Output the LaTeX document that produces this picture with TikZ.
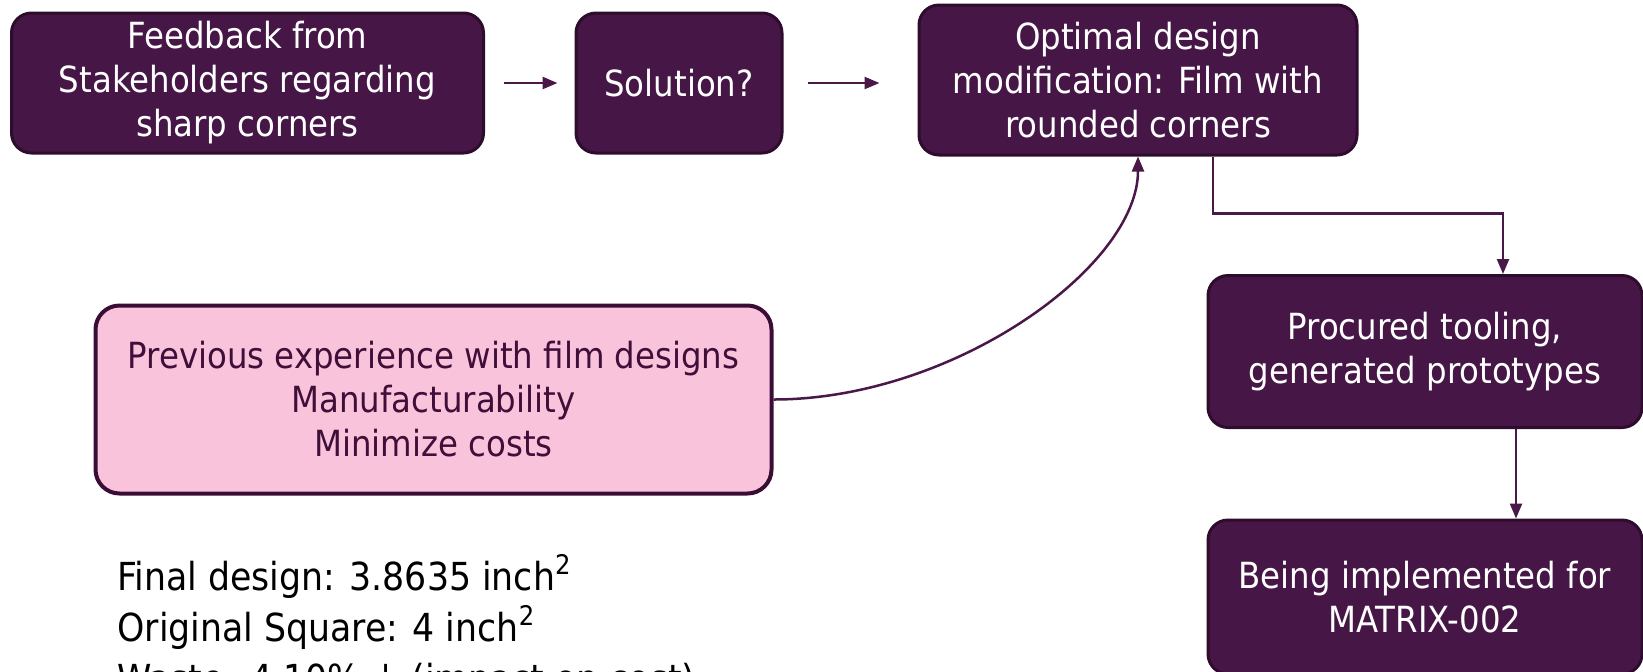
\documentclass[tikz,border=0pt]{standalone}
\usepackage{fontspec}
\setmainfont{DejaVu Sans Condensed}
\usetikzlibrary{arrows.meta,calc}
\definecolor{boxfill}{HTML}{461746}
\definecolor{boxline}{HTML}{2E0C2D}
\definecolor{pinkfill}{HTML}{F9C3DC}
\definecolor{pinkline}{HTML}{3A0D36}
\definecolor{pinktext}{HTML}{3F0E39}
\definecolor{conncol}{HTML}{4A1848}
\begin{document}
\begin{tikzpicture}[x=0.5pt,y=-0.5pt,
  darkbox/.style={draw=boxline, line width=1.5pt, fill=boxfill, rounded corners=10pt,
    text=white, align=center, inner sep=0pt, font=\fontsize{18}{22}\selectfont},
  pinkbox/.style={draw=pinkline, line width=2pt, fill=pinkfill, rounded corners=12pt,
    text=pinktext, align=center, inner sep=0pt, font=\fontsize{18}{22}\selectfont},
  conn/.style={draw=conncol, line width=1.25pt},
  connarrow/.style={conn, -{Triangle[length=7.5pt,width=6pt]}},
  note/.style={align=left, inner sep=0pt, text=black, font=\fontsize{19.3}{25.5}\selectfont}
]
\useasboundingbox (0,0) rectangle (1643,671);
\node[darkbox, minimum width=236pt, minimum height=70pt] (fb) at (247.5,83)
  {Feedback from\\Stakeholders regarding\\sharp corners};
\node[darkbox, minimum width=103pt, minimum height=70pt] (sol) at (679,83) {Solution?};
\node[darkbox, minimum width=219pt, minimum height=75pt] (opt) at (1138,80)
  {Optimal design\\modification: Film with\\rounded corners};
\node[darkbox, minimum width=217pt, minimum height=76pt] (proc) at (1425,351.5)
  {Procured tooling,\\generated prototypes};
\node[darkbox, minimum width=217pt, minimum height=77pt] (impl) at (1425,597)
  {Being implemented for\\MATRIX-002};
\node[pinkbox, minimum width=338pt, minimum height=94pt] (prev) at (433.5,399.5)
  {Previous experience with film designs\\Manufacturability\\Minimize costs};
\node[note, anchor=base west] (fin) at (117,692)
  {Final design: 3.8635 inch\textsuperscript{2}\\Original Square: 4 inch\textsuperscript{2}\\Waste: 4.10\% ↓ (impact on cost)};

\draw[connarrow, shorten <=9.5pt, shorten >=8.5pt] (fb.east |- sol.east) -- (sol.west);
\draw[connarrow, shorten <=12pt, shorten >=19pt] (sol.east) -- (sol.east -| opt.west);
\draw[connarrow] (prev.east) .. controls +(180,0) and +(0,110) .. (opt.south);
\draw[connarrow] ([xshift=37.5pt]opt.south) -- ++(0,57) -| ([xshift=39pt]proc.north);
\draw[connarrow] ([xshift=45.5pt]proc.south) -- ([xshift=45.5pt]impl.north);
\end{tikzpicture}
\end{document}
